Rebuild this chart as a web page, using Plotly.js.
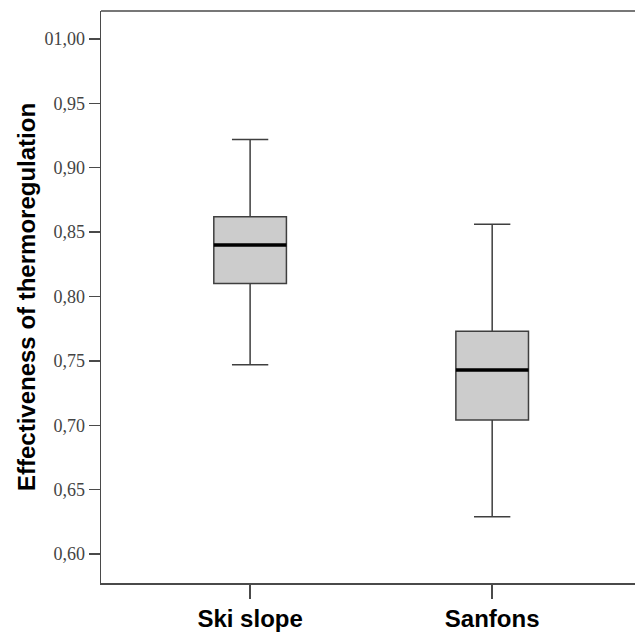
<!DOCTYPE html>
<html>
<head>
<meta charset="utf-8">
<script src="https://cdn.plot.ly/plotly-3.0.1.min.js"></script>
<style>html,body{margin:0;padding:0;background:#fff;overflow:hidden;}#chart{width:635px;height:636px;}</style>
</head>
<body>
<div id="chart"></div>
<script>
// Data
const categories = ['Ski slope', 'Sanfons'];
const lowerWhisker = [0.747, 0.629];
const q1 = [0.810, 0.704];
const median = [0.840, 0.743];
const q3 = [0.862, 0.773];
const upperWhisker = [0.922, 0.856];
const yTickVals = [0.60, 0.65, 0.70, 0.75, 0.80, 0.85, 0.90, 0.95, 1.00];
const yTickText = ['0,60', '0,65', '0,70', '0,75', '0,80', '0,85', '0,90', '0,95', '01,00'];

const boxTrace = {
  type: 'box',
  x: categories,
  q1: q1,
  median: median,
  q3: q3,
  lowerfence: lowerWhisker,
  upperfence: upperWhisker,
  width: 0.30,
  whiskerwidth: 0.5,
  fillcolor: '#cccccc',
  line: {color: '#3f3f3f', width: 1.5},
  boxpoints: false,
  hoverinfo: 'skip',
  showlegend: false
};
const medianTrace = {
  type: 'box',
  x: categories,
  q1: median,
  median: median,
  q3: median,
  lowerfence: median,
  upperfence: median,
  width: 0.30,
  whiskerwidth: 0,
  fillcolor: 'rgba(0,0,0,0)',
  line: {color: '#000000', width: 3.5},
  boxpoints: false,
  hoverinfo: 'skip',
  showlegend: false
};

const layout = {
  width: 635,
  height: 636,
  margin: {l: 101, r: 0, t: 11, b: 53},
  paper_bgcolor: '#ffffff',
  plot_bgcolor: '#ffffff',
  boxmode: 'overlay',
  showlegend: false,
  xaxis: {
    type: 'category',
    range: [-0.616, 1.59],
    showline: true,
    mirror: false,
    linecolor: '#4a4a4a',
    linewidth: 1.5,
    showgrid: false,
    zeroline: false,
    ticks: 'outside',
    ticklen: 14,
    tickwidth: 1.5,
    tickcolor: '#4a4a4a',
    tickfont: {family: 'Liberation Sans, Arial, sans-serif', size: 24, color: '#000', weight: 'bold'}
  },
  yaxis: {
    range: [0.5775, 1.0217],
    showline: true,
    linecolor: '#4a4a4a',
    linewidth: 1.5,
    showgrid: false,
    zeroline: false,
    ticks: 'outside',
    ticklen: 11,
    tickwidth: 1.5,
    tickcolor: '#4a4a4a',
    tickvals: yTickVals,
    ticktext: yTickText,
    tickfont: {family: 'Liberation Serif, Times New Roman, serif', size: 18, color: '#444'},
    title: {
      text: 'Effectiveness of thermoregulation',
      font: {family: 'Liberation Sans, Arial, sans-serif', size: 24, color: '#000', weight: 'bold'},
      standoff: 2
    }
  },
  shapes: [{
    type: 'line', xref: 'paper', yref: 'paper',
    x0: 0, x1: 1, y0: 1, y1: 1,
    line: {color: '#4a4a4a', width: 1.5}
  }]
};

Plotly.newPlot('chart', [boxTrace, medianTrace], layout, {displayModeBar: false, staticPlot: true});
</script>
</body>
</html>
